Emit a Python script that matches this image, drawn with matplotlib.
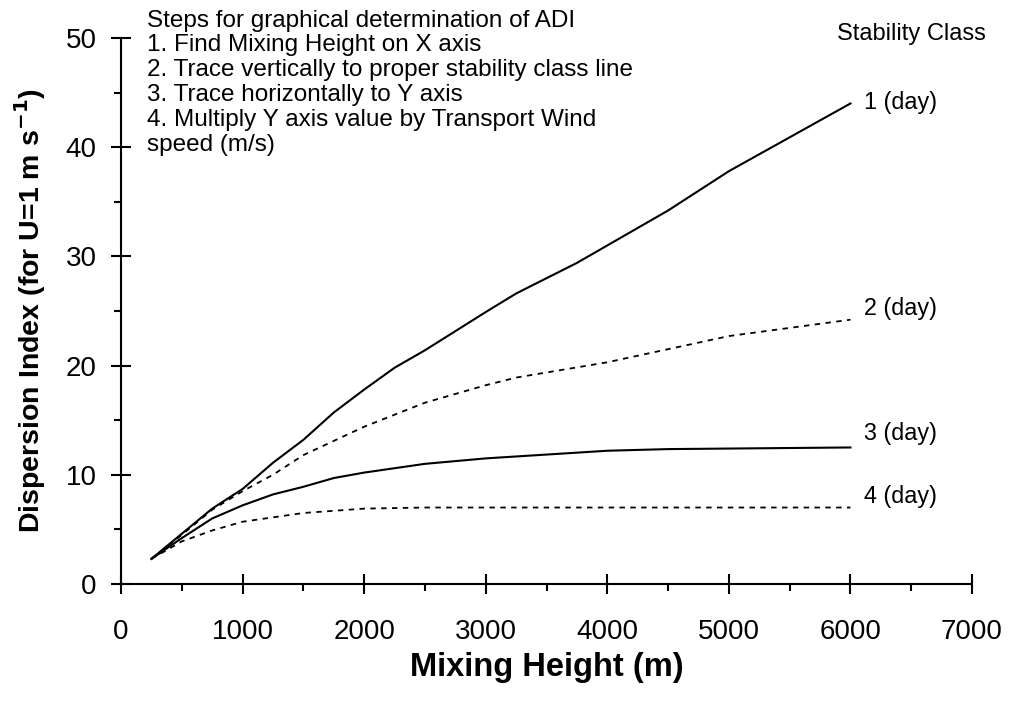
import matplotlib
matplotlib.use('Agg')
import matplotlib.pyplot as plt
from matplotlib.ticker import MultipleLocator

plt.rcParams['font.family'] = ['Liberation Sans', 'DejaVu Sans']

# mixing height (m) and dispersion index for each stability class
x1 = [250, 500, 750, 1000, 1250, 1500, 1750, 2000, 2250, 2500, 3000, 3250, 3750, 4000, 4500, 5000, 6000]
y1 = [2.3, 4.6, 6.9, 8.7, 11.1, 13.2, 15.7, 17.8, 19.8, 21.4, 24.9, 26.6, 29.4, 31.0, 34.2, 37.8, 44.0]

x2 = [250, 500, 750, 1000, 1250, 1500, 1750, 2000, 2500, 3000, 3250, 4000, 4500, 5000, 6000]
y2 = [2.3, 4.5, 6.8, 8.5, 10.0, 11.8, 13.1, 14.4, 16.6, 18.2, 18.9, 20.3, 21.5, 22.7, 24.2]

x3 = [250, 500, 750, 1000, 1250, 1500, 1750, 2000, 2500, 3000, 4000, 4500, 5000, 6000]
y3 = [2.3, 4.2, 6.0, 7.2, 8.2, 8.9, 9.7, 10.2, 11.0, 11.5, 12.2, 12.35, 12.4, 12.5]

x4 = [250, 500, 750, 1000, 1250, 1500, 1750, 2000, 2500, 3000, 4000, 5000, 6000]
y4 = [2.3, 3.9, 4.9, 5.7, 6.1, 6.5, 6.7, 6.9, 7.0, 7.0, 7.0, 7.0, 7.0]

class_labels = ['1 (day)', '2 (day)', '3 (day)', '4 (day)']

steps = ("Steps for graphical determination of ADI\n"
         "1. Find Mixing Height on X axis\n"
         "2. Trace vertically to proper stability class line\n"
         "3. Trace horizontally to Y axis\n"
         "4. Multiply Y axis value by Transport Wind\n"
         "speed (m/s)")

fig = plt.figure(figsize=(10.12, 7.04), dpi=100)
ax = fig.add_axes([0.1196, 0.1705, 0.8409, 0.7756])

dash = (0, (3, 3))
ax.plot(x1, y1, color='black', lw=1.5)
ax.plot(x2, y2, color='black', lw=1.3, linestyle=dash)
ax.plot(x3, y3, color='black', lw=1.5)
ax.plot(x4, y4, color='black', lw=1.3, linestyle=dash)

# class labels at the end of each curve
offsets = [(10, 1), (10, 8), (10, 10), (10, 8)]
for xs, ys, lab, off in zip([x1, x2, x3, x4], [y1, y2, y3, y4], class_labels, offsets):
    ax.annotate(lab, (xs[-1], ys[-1]), xytext=off, textcoords='offset points',
                fontsize=16.8, va='center', ha='left')

ax.text(0.929, 1.007, 'Stability Class', transform=ax.transAxes, fontsize=17,
        ha='center', va='center')
ax.text(0.031, 1.052, steps, transform=ax.transAxes, fontsize=17.5,
        ha='left', va='top', linespacing=1.17)

ax.set_xlim(0, 7000)
ax.set_ylim(0, 50)
ax.xaxis.set_major_locator(MultipleLocator(1000))
ax.xaxis.set_minor_locator(MultipleLocator(500))
ax.yaxis.set_major_locator(MultipleLocator(10))
ax.yaxis.set_minor_locator(MultipleLocator(5))

for s in ['top', 'right']:
    ax.spines[s].set_visible(False)
for s in ['left', 'bottom']:
    ax.spines[s].set_linewidth(1.5)
    ax.spines[s].set_clip_on(False)

ax.tick_params(which='major', direction='inout', length=15, width=1.5,
               labelsize=20)
ax.tick_params(axis='x', which='major', pad=18)
ax.tick_params(axis='y', which='major', pad=10)
ax.tick_params(which='minor', direction='out', length=5, width=1.5)

ax.set_xlabel('Mixing Height (m)', fontsize=23.5, fontweight='bold', labelpad=5)
ax.set_ylabel('Dispersion Index (for U=1 m s$^{\\mathbf{-1}}$)', fontsize=20.5,
              fontweight='bold')
ax.yaxis.set_label_coords(-0.086, 0.5)

fig.savefig('out.png', dpi=100)
